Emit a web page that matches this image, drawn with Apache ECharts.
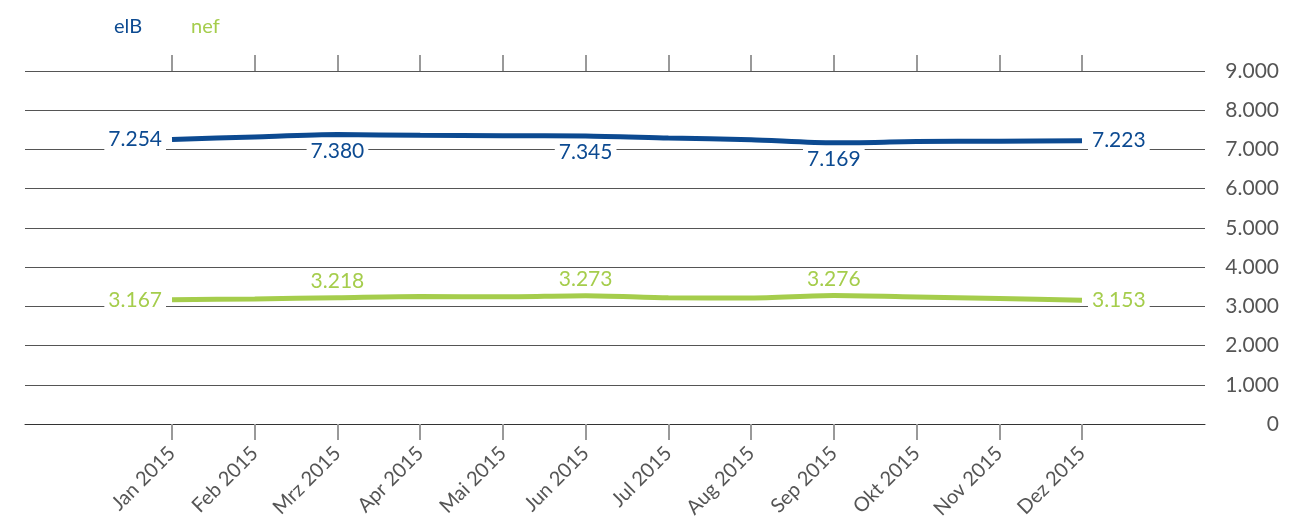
<!DOCTYPE html>
<html>
<head>
<meta charset="utf-8">
<script src="https://cdn.jsdelivr.net/npm/echarts@6/dist/echarts.min.js"></script>
<style>
  html, body { margin: 0; padding: 0; background: #fff; }
  #chart { width: 1300px; height: 526px; }
</style>
</head>
<body>
<div id="chart"></div>
<script>
(function () {

    var months = ['Jan 2015', 'Feb 2015', 'Mrz 2015', 'Apr 2015', 'Mai 2015', 'Jun 2015',
        'Jul 2015', 'Aug 2015', 'Sep 2015', 'Okt 2015', 'Nov 2015', 'Dez 2015'];
    var elB = [7254, 7320, 7380, 7360, 7350, 7345, 7290, 7250, 7169, 7200, 7210, 7223];
    var nef = [3167, 3190, 3218, 3250, 3245, 3273, 3220, 3215, 3276, 3240, 3200, 3153];
    var yTicks = [0, 1000, 2000, 3000, 4000, 5000, 6000, 7000, 8000, 9000];

    var blue = '#0c4a91';
    var green = '#a5cd4c';
    var font = 'Lato';

    function fmt(v) {
        return String(v).replace(/\B(?=(\d{3})+(?!\d))/g, '.');
    }

    // where each shown label sits (others hidden)
    var bluePos = { 0: 'left', 2: 'bottom', 5: 'bottom', 8: 'bottom', 11: 'right' };
    var greenPos = { 0: 'left', 2: 'top', 5: 'top', 8: 'top', 11: 'right' };

    function build(values, pos) {
        return values.map(function (v, i) {
            var item = { value: [i, v] };
            if (pos[i]) {
                item.label = { show: true, position: pos[i] };
            }
            return item;
        });
    }

    var idx = months.map(function (m, i) { return i; });

    var labelBase = {
        show: false,
        formatter: function (p) { return fmt(p.value[1]); },
        fontFamily: font,
        fontSize: 21,
        backgroundColor: '#fff',
        padding: [0, 4],
        distance: 6
    };

    var option = {
        animation: false,
        legend: {
            left: 104,
            top: 12,
            icon: 'none',
            itemWidth: 0,
            itemGap: 44,
            textStyle: { fontFamily: font, fontSize: 20 },
            data: [
                { name: 'elB', textStyle: { color: blue } },
                { name: 'nef', textStyle: { color: green } }
            ]
        },
        grid: { left: 25, right: 95, top: 71, bottom: 102 },
        xAxis: [
            {
                type: 'value',
                min: -1.777,
                max: 12.487,
                splitLine: { show: false },
                axisLine: { show: true, lineStyle: { color: '#333', width: 1 } },
                axisTick: {
                    show: true,
                    customValues: idx,
                    length: 16,
                    lineStyle: { color: '#999', width: 2 }
                },
                axisLabel: {
                    customValues: idx,
                    rotate: 45,
                    margin: 26,
                    color: '#555',
                    fontFamily: font,
                    fontSize: 20,
                    formatter: function (v) { return months[Math.round(v)]; }
                }
            },
            {
                type: 'value',
                position: 'top',
                min: -1.777,
                max: 12.487,
                splitLine: { show: false },
                axisLine: { show: false },
                axisTick: {
                    show: true,
                    customValues: idx,
                    length: 16,
                    lineStyle: { color: '#999', width: 2 }
                },
                axisLabel: { show: false }
            }
        ],
        yAxis: {
            type: 'value',
            position: 'right',
            min: 0,
            max: 9000,
            interval: 1000,
            axisLine: { show: false },
            axisTick: { show: false },
            splitLine: { lineStyle: { color: '#555', width: 1 } },
            axisLabel: {
                align: 'right',
                margin: 74,
                color: '#555',
                fontFamily: font,
                fontSize: 21,
                customValues: yTicks,
                formatter: function (v) { return fmt(v); }
            }
        },
        series: [
            {
                name: 'elB',
                type: 'line',
                data: build(elB, bluePos),
                smooth: 0.25,
                showSymbol: true,
                symbol: 'circle',
                symbolSize: 0,
                color: blue,
                lineStyle: { color: blue, width: 5 },
                label: Object.assign({ color: blue }, labelBase),
                z: 3
            },
            {
                name: 'nef',
                type: 'line',
                data: build(nef, greenPos),
                smooth: 0.25,
                showSymbol: true,
                symbol: 'circle',
                symbolSize: 0,
                color: green,
                lineStyle: { color: green, width: 5 },
                label: Object.assign({ color: green }, labelBase),
                z: 3
            }
        ]
    };

    var myChart = echarts.init(document.getElementById('chart'));
    myChart.setOption(option);

})();
</script>
</body>
</html>
